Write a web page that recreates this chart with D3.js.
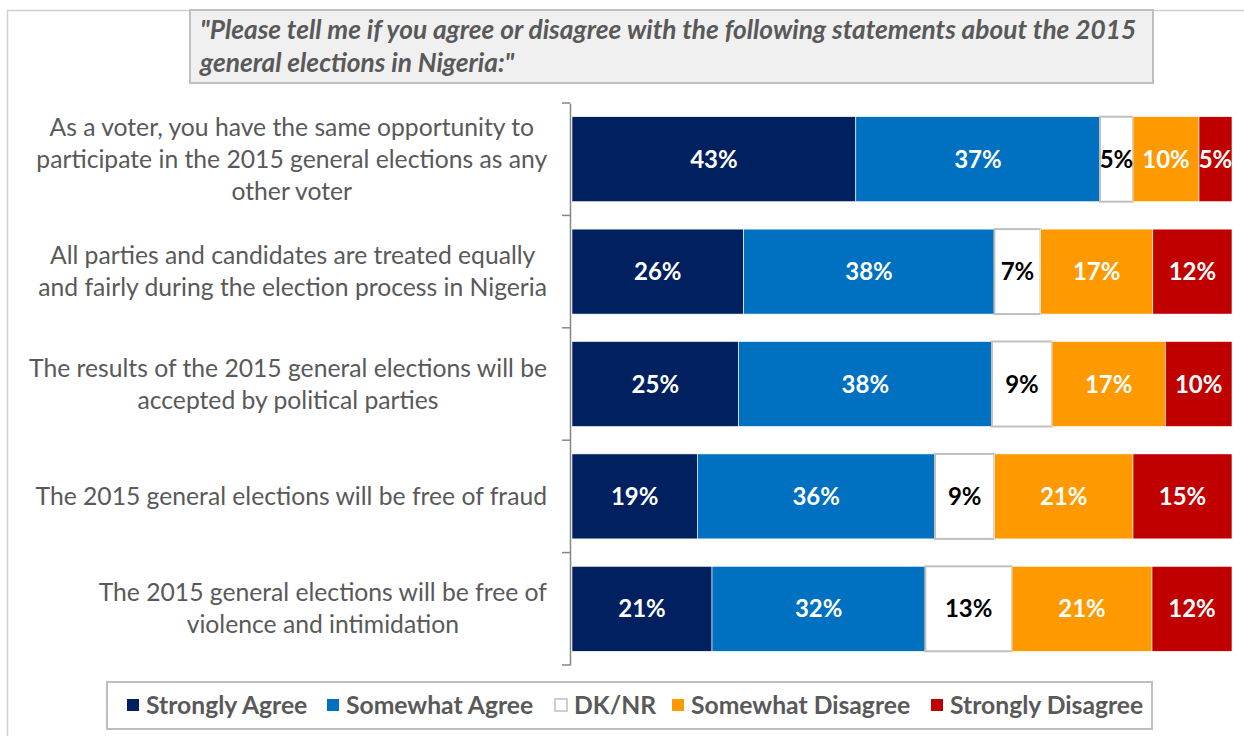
<!DOCTYPE html>
<html>
<head>
<meta charset="utf-8">
<script src="https://cdn.jsdelivr.net/npm/d3@7/dist/d3.min.js"></script>
<style>
  html, body { margin: 0; padding: 0; background: #ffffff; }
  svg { display: block; font-family: Lato, "Open Sans", sans-serif; }
</style>
</head>
<body>
<svg id="chart" width="1244" height="736"></svg>
<script>
// Survey statements (one bar each)
const statements = [
  ["As a voter, you have the same opportunity to", "participate in the 2015 general elections as any", "other voter"],
  ["All parties and candidates are treated equally", "and fairly during the election process in Nigeria"],
  ["The results of the 2015 general elections will be", "accepted by political parties"],
  ["The 2015 general elections will be free of fraud"],
  ["The 2015 general elections will be free of", "violence and intimidation"]
];

// Response shares, percent
const stronglyAgree    = [43, 26, 25, 19, 21];
const somewhatAgree    = [37, 38, 38, 36, 32];
const dkNr             = [5, 7, 9, 9, 13];
const somewhatDisagree = [10, 17, 17, 21, 21];
const stronglyDisagree = [5, 12, 10, 15, 12];

const responseNames = ["Strongly Agree", "Somewhat Agree", "DK/NR", "Somewhat Disagree", "Strongly Disagree"];
const responseColors = ["#002060", "#0070c0", "#ffffff", "#ff9900", "#c00000"];
const labelColors = ["#ffffff", "#ffffff", "#000000", "#ffffff", "#ffffff"];

const titleLines = [
  "\"Please tell me if you agree or disagree with the following statements about the 2015",
  "general elections in Nigeria:\""
];

const seriesValues = [stronglyAgree, somewhatAgree, dkNr, somewhatDisagree, stronglyDisagree];
const rows = statements.map((s, i) => {
  const r = { idx: i };
  responseNames.forEach((n, k) => { r[n] = seriesValues[k][i]; });
  return r;
});

const svg = d3.select("#chart");
const textGrey = "#595959";

// outer frame
svg.append("rect")
  .attr("x", 7.5).attr("y", 10.5).attr("width", 1300).attr("height", 800)
  .attr("fill", "none").attr("stroke", "#d0d0d0").attr("stroke-width", 1.5);

// title box
svg.append("rect")
  .attr("x", 190).attr("y", 10).attr("width", 963).attr("height", 73)
  .attr("fill", "#f0f0f0").attr("stroke", "#bfbfbf").attr("stroke-width", 2);

const title = svg.append("text")
  .attr("font-weight", "bold").attr("font-style", "italic")
  .attr("font-size", 26.3).attr("fill", textGrey);
titleLines.forEach((t, i) => {
  title.append("tspan").attr("x", 200).attr("y", 39 + i * 33).text(t);
});

// scales
const x = d3.scaleLinear().domain([0, 1]).range([572, 1232]);
const y = d3.scaleBand().domain(d3.range(statements.length))
  .range([103, 665]).paddingInner(0.244).paddingOuter(0.122);

const stack = d3.stack().keys(responseNames).offset(d3.stackOffsetExpand);
const layers = stack(rows);

const layerG = svg.append("g").selectAll("g").data(layers).join("g")
  .attr("fill", (d, i) => responseColors[i])
  .attr("stroke", (d, i) => i === 2 ? "#bfbfbf" : "#ffffff")
  .attr("stroke-width", (d, i) => i === 2 ? 2 : 0.6);

layerG.selectAll("rect").data(d => d).join("rect")
  .attr("x", d => x(d[0]))
  .attr("y", d => y(d.data.idx))
  .attr("width", d => x(d[1]) - x(d[0]))
  .attr("height", y.bandwidth());

// value labels
layers.forEach((layer, k) => {
  svg.append("g").selectAll("text").data(layer).join("text")
    .attr("x", d => (x(d[0]) + x(d[1])) / 2)
    .attr("y", d => y(d.data.idx) + y.bandwidth() / 2)
    .attr("dy", "0.36em")
    .attr("text-anchor", "middle")
    .attr("font-weight", "bold").attr("font-size", 24)
    .attr("fill", labelColors[k])
    .text(d => d.data[layer.key] + "%");
});

// category axis
const axis = d3.axisLeft(y).tickSizeOuter(0).tickSizeInner(0).tickFormat("");
const axG = svg.append("g").attr("transform", "translate(570,0)").call(axis);
axG.select(".domain").attr("stroke", "#868686").attr("stroke-width", 1.5);
// ticks at band boundaries
const bounds = d3.range(statements.length + 1).map(i => y.range()[0] + i * y.step());
axG.selectAll(".bnd").data(bounds).join("line")
  .attr("x1", -8).attr("x2", 0).attr("y1", d => d).attr("y2", d => d)
  .attr("stroke", "#868686").attr("stroke-width", 1.5);

// statement labels: lines centred within a block whose right edge is fixed
const labelG = svg.append("g");
statements.forEach((lines, i) => {
  const t = labelG.append("text").attr("font-size", 24.7).attr("fill", textGrey)
    .attr("text-anchor", "middle");
  const spans = lines.map(ln => t.append("tspan").text(ln));
  const widest = d3.max(spans, s => s.node().getComputedTextLength());
  const cx = 547 - widest / 2;
  const cy = y(i) + y.bandwidth() / 2;
  const lh = 32;
  spans.forEach((s, j) => {
    s.attr("x", cx).attr("y", cy + (j - (lines.length - 1) / 2) * lh).attr("dy", "0.35em");
  });
});

// legend
svg.append("rect")
  .attr("x", 107).attr("y", 682).attr("width", 1045).attr("height", 47)
  .attr("fill", "#ffffff").attr("stroke", "#bfbfbf").attr("stroke-width", 2);

const legendX = [127, 327, 555, 672, 931];
const lg = svg.append("g");
responseNames.forEach((n, k) => {
  lg.append("rect")
    .attr("x", legendX[k]).attr("y", 699).attr("width", 12).attr("height", 12)
    .attr("fill", responseColors[k])
    .attr("stroke", k === 2 ? "#bfbfbf" : "none").attr("stroke-width", 1.5);
  lg.append("text")
    .attr("x", legendX[k] + 19).attr("y", 705).attr("dy", "0.36em")
    .attr("font-weight", "bold").attr("font-size", 24.7).attr("fill", textGrey)
    .text(n);
});
</script>
</body>
</html>
